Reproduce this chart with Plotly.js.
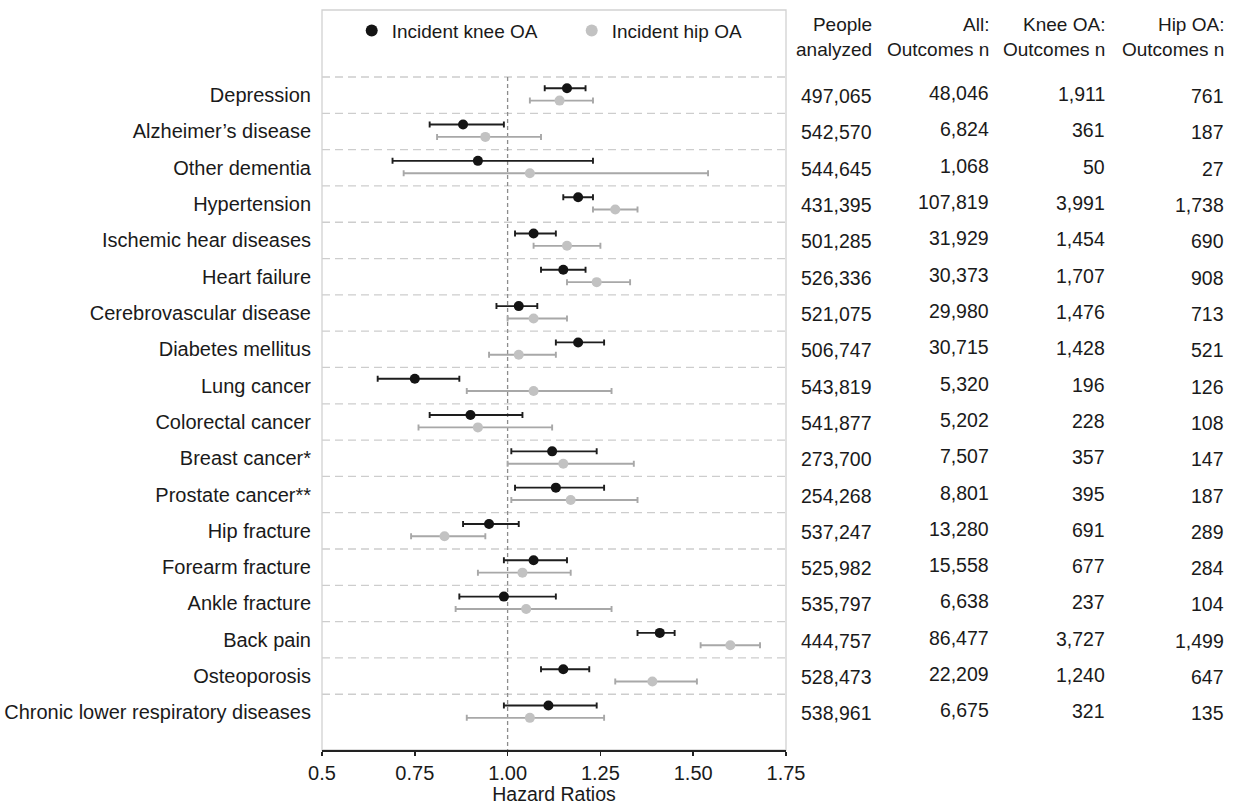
<!DOCTYPE html>
<html>
<head>
<meta charset="utf-8">
<script src="https://cdn.plot.ly/plotly-3.0.1.min.js"></script>
<style>
  html, body { margin: 0; padding: 0; background: #ffffff; }
  #chart { width: 1237px; height: 805px; }
</style>
</head>
<body>
<div id="chart"></div>
<script>
// ---------------- DATA ----------------
const categories = [
  "Depression", "Alzheimer\u2019s disease", "Other dementia", "Hypertension",
  "Ischemic hear diseases", "Heart failure", "Cerebrovascular disease",
  "Diabetes mellitus", "Lung cancer", "Colorectal cancer", "Breast cancer*",
  "Prostate cancer**", "Hip fracture", "Forearm fracture", "Ankle fracture",
  "Back pain", "Osteoporosis", "Chronic lower respiratory diseases"
];

// Incident knee OA: hazard ratio with 95% CI
const kneeHR = [1.16, 0.88, 0.92, 1.19, 1.07, 1.15, 1.03, 1.19, 0.75, 0.90, 1.12, 1.13, 0.95, 1.07, 0.99, 1.41, 1.15, 1.11];
const kneeLo = [1.10, 0.79, 0.69, 1.15, 1.02, 1.09, 0.97, 1.13, 0.65, 0.79, 1.01, 1.02, 0.88, 0.99, 0.87, 1.35, 1.09, 0.99];
const kneeHi = [1.21, 0.99, 1.23, 1.23, 1.13, 1.21, 1.08, 1.26, 0.87, 1.04, 1.24, 1.26, 1.03, 1.16, 1.13, 1.45, 1.22, 1.24];

// Incident hip OA: hazard ratio with 95% CI
const hipHR = [1.14, 0.94, 1.06, 1.29, 1.16, 1.24, 1.07, 1.03, 1.07, 0.92, 1.15, 1.17, 0.83, 1.04, 1.05, 1.60, 1.39, 1.06];
const hipLo = [1.06, 0.81, 0.72, 1.23, 1.07, 1.16, 1.00, 0.95, 0.89, 0.76, 1.00, 1.01, 0.74, 0.92, 0.86, 1.52, 1.29, 0.89];
const hipHi = [1.23, 1.09, 1.54, 1.35, 1.25, 1.33, 1.16, 1.13, 1.28, 1.12, 1.34, 1.35, 0.94, 1.17, 1.28, 1.68, 1.51, 1.26];

// Table columns
const peopleAnalyzed = ["497,065","542,570","544,645","431,395","501,285","526,336","521,075","506,747","543,819","541,877","273,700","254,268","537,247","525,982","535,797","444,757","528,473","538,961"];
const allOutcomes    = ["48,046","6,824","1,068","107,819","31,929","30,373","29,980","30,715","5,320","5,202","7,507","8,801","13,280","15,558","6,638","86,477","22,209","6,675"];
const kneeOutcomes   = ["1,911","361","50","3,991","1,454","1,707","1,476","1,428","196","228","357","395","691","677","237","3,727","1,240","321"];
const hipOutcomes    = ["761","187","27","1,738","690","908","713","521","126","108","147","187","289","284","104","1,499","647","135"];
const tableHeaders   = ["People<br>analyzed", "All:<br>Outcomes n", "Knee OA:<br>Outcomes n", "Hip OA:<br>Outcomes n"];

const seriesNames = ["Incident knee OA", "Incident hip OA"];
const xTickVals = [0.5, 0.75, 1.0, 1.25, 1.5, 1.75];
const xTickText = ["0.5", "0.75", "1.00", "1.25", "1.50", "1.75"];
const referenceHR = 1.0;
const xAxisTitle = "Hazard Ratios";

// ---------------- STYLE ----------------
const FONT = "'Liberation Sans', Arial, Helvetica, sans-serif";
const FS = 19;
const TXT = "#1a1a1a";
const BLACK = "#141414";
const GREY = "#c2c2c2";
const GREY_BAR = "#a8a8a8";

const idx = categories.map((c, i) => i);
const kneeY = idx.map(i => i - 0.19);
const hipY = idx.map(i => i + 0.15);

const traces = [
  {
    type: "scatter", mode: "markers", name: seriesNames[0],
    x: kneeHR, y: kneeY,
    marker: { color: BLACK, size: 10 },
    error_x: {
      type: "data", symmetric: false,
      array: kneeHR.map((v, i) => kneeHi[i] - v),
      arrayminus: kneeHR.map((v, i) => v - kneeLo[i]),
      color: "#1e1e1e", thickness: 1.9, width: 3
    },
    hoverinfo: "x"
  },
  {
    type: "scatter", mode: "markers", name: seriesNames[1],
    x: hipHR, y: hipY,
    marker: { color: GREY, size: 10 },
    error_x: {
      type: "data", symmetric: false,
      array: hipHR.map((v, i) => hipHi[i] - v),
      arrayminus: hipHR.map((v, i) => v - hipLo[i]),
      color: GREY_BAR, thickness: 1.9, width: 3
    },
    hoverinfo: "x"
  }
];

const n = categories.length;
const yTop = -2.345, yBottom = n + 0.035;

const shapes = [];
// horizontal dashed separators above each row
for (let i = 0; i < n; i++) {
  shapes.push({
    type: "line", xref: "paper", yref: "y", x0: 0, x1: 1, y0: i - 0.5, y1: i - 0.5,
    line: { color: "#cdcdcd", width: 1.3, dash: "8px,5px" }, layer: "below"
  });
}
// reference line at HR = 1
shapes.push({
  type: "line", xref: "x", yref: "y", x0: referenceHR, x1: referenceHR, y0: -0.5, y1: yBottom,
  line: { color: "#8c8c8c", width: 1.3, dash: "4px,3px" }, layer: "below"
});
// plot frame
shapes.push({
  type: "rect", xref: "paper", yref: "paper", x0: 0, x1: 1, y0: 0, y1: 1,
  line: { color: "#d2d2d2", width: 1.3 }, layer: "below"
});

// table annotations
const plotL = 322, plotR = 786;
const pxToPaper = px => (px - plotL) / (plotR - plotL);
const colRight = [874, 991, 1107, 1226];
const colShift = [-1, 2, 1, -1];
const columns = [peopleAnalyzed, allOutcomes, kneeOutcomes, hipOutcomes];
const annotations = [];
columns.forEach((col, c) => {
  col.forEach((val, i) => {
    annotations.push({
      text: val, xref: "paper", yref: "y", x: pxToPaper(colRight[c]), y: i,
      xanchor: "right", yanchor: "middle", showarrow: false, yshift: colShift[c],
      font: { family: FONT, size: 19.5, color: TXT }
    });
  });
  annotations.push({
    text: tableHeaders[c], xref: "paper", yref: "y", x: pxToPaper(colRight[c]), y: -1.6,
    xanchor: "right", yanchor: "middle", align: "right", showarrow: false,
    font: { family: FONT, size: FS, color: TXT }
  });
});

const layout = {
  width: 1237, height: 805,
  margin: { l: plotL, r: 1237 - plotR, t: 10, b: 55, pad: 0 },
  paper_bgcolor: "#ffffff", plot_bgcolor: "#ffffff",
  font: { family: FONT, size: FS, color: TXT },
  showlegend: true,
  legend: {
    orientation: "h", x: 0.064, y: 0.972, xanchor: "left", yanchor: "middle",
    bgcolor: "rgba(0,0,0,0)", font: { family: FONT, size: FS, color: TXT },
    itemsizing: "constant", entrywidth: 175, entrywidthmode: "pixels"
  },
  xaxis: {
    range: [0.5, 1.75], tickvals: xTickVals, ticktext: xTickText,
    showgrid: false, zeroline: false,
    showline: true, linecolor: "#222222", linewidth: 2,
    ticks: "outside", ticklen: 4, tickwidth: 1.5, tickcolor: "#222222",
    tickfont: { family: FONT, size: 20, color: TXT },
    title: { text: xAxisTitle, font: { family: FONT, size: 19.5, color: TXT }, standoff: 5 }
  },
  yaxis: {
    range: [yBottom, yTop], tickvals: idx, ticktext: categories,
    showgrid: false, zeroline: false, showline: false, ticks: "",
    ticklabelstandoff: 10,
    tickfont: { family: FONT, size: 20, color: TXT }
  },
  shapes: shapes,
  annotations: annotations
};

Plotly.newPlot("chart", traces, layout, { displayModeBar: false, staticPlot: true });
</script>
</body>
</html>
